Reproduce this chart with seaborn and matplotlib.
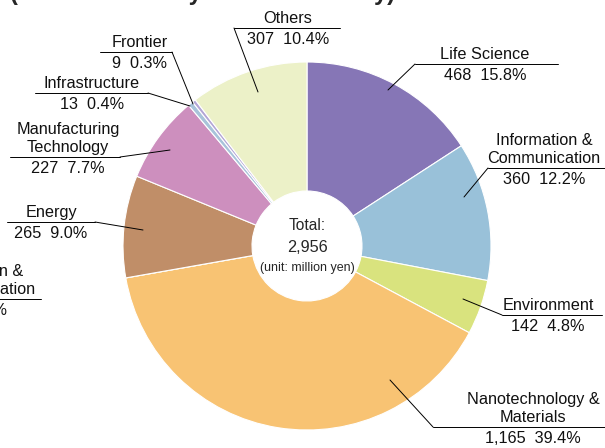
#%%
# Import libraries
import numpy as np
import pandas as pd
import matplotlib
matplotlib.use("Agg")
import matplotlib.pyplot as plt
import seaborn as sns

#%%
# data (unit: million yen)
fields = ["Life Science", "Information &\nCommunication", "Environment",
          "Nanotechnology &\nMaterials", "Promotion &\nCommunication", "Energy",
          "Manufacturing\nTechnology", "Infrastructure", "Frontier", "Others"]
amounts = [468, 360, 142, 1165, 0, 265, 227, 13, 9, 307]
field_colors = ["#8676b6", "#99c1d9", "#d9e37e", "#f8c373", "#b9d3a6",
                "#c08e68", "#cd8fbe", "#a8c3da", "#b3a6d6", "#ecf1c8"]

df = pd.DataFrame({"field": fields, "amount": amounts})
total = df["amount"].sum()
df["pct"] = df["amount"] / total * 100

#%%
# label layout in pixels (y measured from the top):
# text centre x, underline y, underline x0, x1, leader start x, leader tip
W, H = 605, 448
layout = [
    (485, 64, 415, 558, 415, (388, 90)),
    (544, 168, 488, 605, 488, (464, 197)),
    (548, 315, 502, 602, 502, (463, 299)),
    (533, 427, 433, 605, 433, (390, 380)),
    (-21, 299, -90, 41, None, None),
    (51, 222, 7, 95, 95, (143, 230)),
    (68, 157, 10, 120, 120, (170, 150)),
    (92, 93, 35, 148, 148, (190, 106)),
    (140, 52, 100, 172, 172, (193, 104)),
    (288, 28, 234, 340, 234, (258, 92)),
]

#%%
sns.set_style("white")
plt.rcParams["font.family"] = ["Liberation Sans", "DejaVu Sans"]

fig = plt.figure(figsize=(W / 100, H / 100), dpi=100)
ax = fig.add_axes([0, 0, 1, 1])

# donut
cx, cy, r = 307, H - 246, 184
ax.pie(df["amount"], colors=sns.color_palette(field_colors), startangle=90,
       counterclock=False, radius=r, center=(cx, cy),
       wedgeprops=dict(width=r - 55, edgecolor="white", linewidth=0.8))

# labels with underline and leader line
fs = 11.7
for i, row in df.iterrows():
    tx, ly, x0, x1, ax0, tip = layout[i]
    ax.plot([x0, x1], [H - ly, H - ly], color="black", lw=0.7, clip_on=False)
    if tip is not None:
        ax.plot([ax0, tip[0]], [H - ly, H - tip[1]], color="black", lw=0.7)
    ax.text(tx, H - ly + 2.3, row["field"], ha="center", va="bottom",
            fontsize=fs, color="#111111")
    ax.text(tx, H - ly - 4, f"{row['amount']:,}  {row['pct']:.1f}%",
            ha="center", va="top", fontsize=fs, color="#111111")

# centre text
ax.text(cx, H - 225, "Total:", ha="center", va="center", fontsize=11.2)
ax.text(cx, H - 247, f"{total:,}", ha="center", va="center", fontsize=11.7)
ax.text(cx, H - 268, "(unit: million yen)", ha="center", va="center", fontsize=9)

# title (cut off at the top edge, only descenders show)
ax.text(10, H + 0.5, "(Total Amount by Research Study)", ha="left",
        va="baseline", fontsize=17, fontweight="bold")

ax.set_xlim(0, W)
ax.set_ylim(0, H)
ax.set_aspect("equal")
ax.set_axis_off()

fig.savefig("out.png", dpi=100)
